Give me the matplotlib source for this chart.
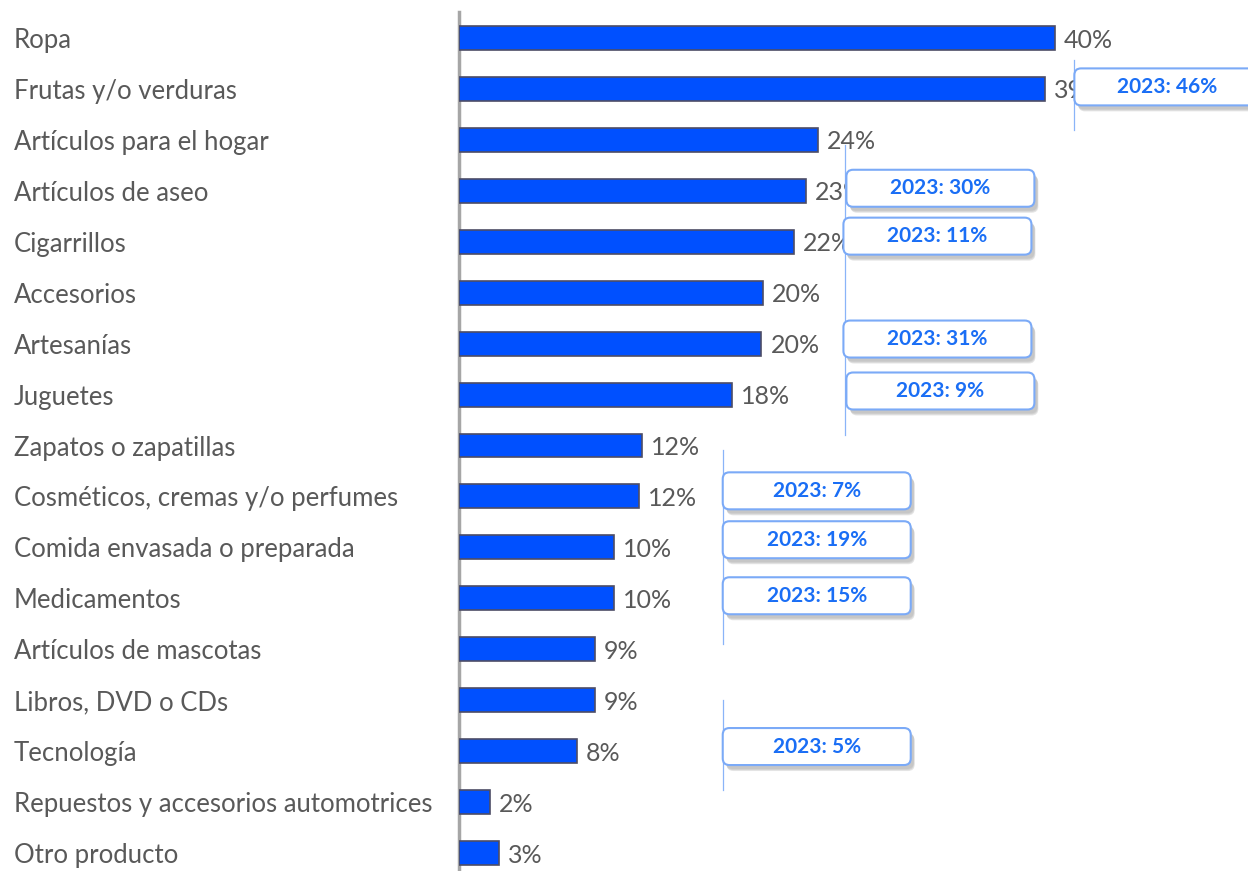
import numpy as np
import matplotlib.pyplot as plt
from matplotlib.patches import FancyBboxPatch

# Daten
categorias = ["Ropa", "Frutas y/o verduras", "Artículos para el hogar",
              "Artículos de aseo", "Cigarrillos", "Accesorios", "Artesanías",
              "Juguetes", "Zapatos o zapatillas", "Cosméticos, cremas y/o perfumes",
              "Comida envasada o preparada", "Medicamentos", "Artículos de mascotas",
              "Libros, DVD o CDs", "Tecnología",
              "Repuestos y accesorios automotrices", "Otro producto"]
valores = [40, 39.3, 24.1, 23.3, 22.5, 20.4, 20.3, 18.3, 12.3, 12.1,
           10.4, 10.4, 9.1, 9.1, 7.9, 2.1, 2.7]

# Vergleichswerte 2023 (Index der Kategorie, Wert)
filas_2023 = [1, 3, 4, 6, 7, 9, 10, 11, 14]
valores_2023 = [46, 30, 11, 31, 9, 7, 19, 15, 5]

# Layout der Kästchen (x-Position in %-Einheiten)
caja_x = [41.3, 26.0, 25.8, 25.8, 26.0, 17.7, 17.7, 17.7, 17.7]
caja_dy = [-0.04, -0.05, -0.11, -0.09, -0.07, -0.11, -0.15, -0.05, -0.09]

W, H = 1248, 871
fig = plt.figure(figsize=(W / 100, H / 100), dpi=100)
ax = fig.add_axes([459 / W, 0, 789 / W, 1])

px_x = 14.9      # Pixel pro %
px_y = 50.94     # Pixel pro Zeile
ax.set_xlim(0, 789 / px_x)
ax.set_ylim(16 + 18 / px_y, -38 / px_y)

y = np.arange(len(categorias))
ax.barh(y, valores, height=0.47, color="#0050ff", edgecolor="#4d4d66", linewidth=1.2, zorder=3)

for yi, v in zip(y, valores):
    ax.text(v + 9 / px_x, yi + 0.04, f"{v:.0f}%", va="center", ha="left",
            fontsize=18, color="#595959", family="Lato", zorder=4)

for yi, c in zip(y, categorias):
    ax.text(-445 / px_x, yi + 0.05, c, va="center", ha="left", fontsize=18.5,
            color="#595959", family="Lato", clip_on=False)

# Achsen
for s in ["top", "right", "bottom"]:
    ax.spines[s].set_visible(False)
ax.spines["left"].set_color("#a6a6a6")
ax.spines["left"].set_linewidth(2.5)
ax.spines["left"].set_bounds(16 + 18 / px_y, -26 / px_y)
ax.set_xticks([])
ax.set_yticks([])

# Verbindungslinien
linea = dict(color="#8ab4f8", linewidth=0.9, zorder=5)
ax.plot([41.3, 41.3], [0.43, 1.8], **linea)
ax.plot([25.9, 25.9], [2.1, 7.8], **linea)
ax.plot([17.7, 17.7], [8.09, 11.9], **linea)
ax.plot([17.7, 17.7], [13.0, 14.76], **linea)

# Kästchen 2023
asp = px_x / px_y
bw, bh = 188 / px_x, 37 / px_y
for fila, v, bx, dy in zip(filas_2023, valores_2023, caja_x, caja_dy):
    cy = fila + dy
    # Schatten
    for k, a in enumerate([0.10, 0.12, 0.15]):
        off = (3 + k) / px_x, (4 + k) / px_y
        sh = FancyBboxPatch((bx + off[0] - k * 0.5 / px_x, cy - bh / 2 + off[1]), bw, bh,
                            boxstyle="round,pad=0,rounding_size=0.45",
                            mutation_aspect=asp, facecolor="#555555", edgecolor="none",
                            alpha=a, zorder=6, clip_on=False)
        ax.add_patch(sh)
    caja = FancyBboxPatch((bx, cy - bh / 2), bw, bh,
                          boxstyle="round,pad=0,rounding_size=0.45",
                          mutation_aspect=asp, facecolor="white", edgecolor="#7baaf7",
                          linewidth=1.5, zorder=7, clip_on=False)
    ax.add_patch(caja)
    tx = bx + bw / 2 if fila != 1 else bx + 93 / px_x
    ax.text(tx, cy, f"2023: {v}%", ha="center", va="center", fontsize=15,
            fontweight="bold", color="#1a6ef5", family="Lato", zorder=8)

fig.savefig("out.png", dpi=100)
